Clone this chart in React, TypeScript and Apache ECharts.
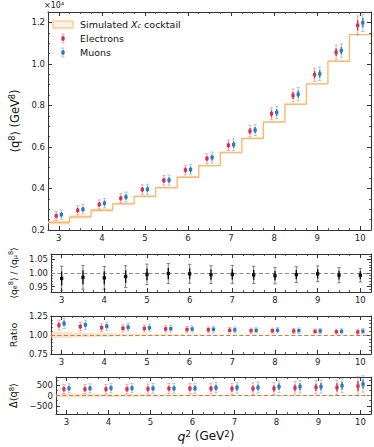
import React, { useEffect, useRef } from "react";
import * as echarts from "echarts";

// ---------------- data ----------------
const binCenters = [3, 3.5, 4, 4.5, 5, 5.5, 6, 6.5, 7, 7.5, 8, 8.5, 9, 9.5, 10];
const binHalfWidth = 0.25;
const cocktail = [2360, 2630, 2950, 3260, 3620, 4040, 4540, 5100, 5730, 6410, 7200, 8060, 9040, 10130, 11410];
const cocktailUnc = [95, 80, 70, 60, 55, 50, 45, 40, 35, 32, 30, 28, 26, 25, 25];

const electrons = [2680, 2950, 3230, 3530, 3950, 4390, 4890, 5440, 6080, 6760, 7600, 8480, 9480, 10560, 11860];
const electronsErr = [220, 215, 220, 225, 230, 230, 235, 235, 255, 275, 290, 310, 320, 345, 450];
const electronsStat = [120, 120, 120, 125, 125, 125, 130, 130, 140, 150, 160, 170, 175, 190, 250];
const muons = [2740, 3000, 3290, 3590, 3960, 4400, 4910, 5490, 6110, 6810, 7660, 8540, 9520, 10640, 11980];
const muonsErr = [225, 225, 230, 235, 240, 245, 250, 265, 275, 265, 300, 320, 330, 320, 420];
const muonsStat = [125, 125, 125, 130, 130, 135, 140, 145, 150, 145, 165, 175, 180, 175, 230];

const eMuRatio = [0.98, 0.984, 0.982, 0.987, 0.995, 0.998, 0.997, 0.994, 0.995, 0.993, 0.99, 0.994, 0.997, 0.992, 0.992];
const eMuRatioErr = [0.045, 0.044, 0.042, 0.04, 0.038, 0.037, 0.035, 0.033, 0.033, 0.032, 0.03, 0.029, 0.029, 0.028, 0.025];
const eMuRatioStat = [0.026, 0.025, 0.024, 0.023, 0.022, 0.021, 0.02, 0.019, 0.019, 0.018, 0.017, 0.017, 0.017, 0.016, 0.015];

const ratioE = [1.13, 1.111, 1.097, 1.088, 1.085, 1.08, 1.072, 1.068, 1.062, 1.056, 1.056, 1.053, 1.048, 1.043, 1.04];
const ratioEErr = [0.066, 0.058, 0.052, 0.048, 0.045, 0.042, 0.04, 0.038, 0.036, 0.035, 0.034, 0.033, 0.033, 0.033, 0.036];
const ratioEStat = [0.036, 0.032, 0.029, 0.027, 0.025, 0.023, 0.022, 0.021, 0.02, 0.019, 0.019, 0.018, 0.018, 0.018, 0.02];
const ratioM = [1.153, 1.134, 1.116, 1.102, 1.094, 1.083, 1.078, 1.075, 1.067, 1.061, 1.062, 1.058, 1.053, 1.049, 1.05];
const ratioMErr = [0.068, 0.06, 0.054, 0.05, 0.047, 0.044, 0.042, 0.04, 0.038, 0.036, 0.036, 0.035, 0.034, 0.033, 0.035];
const ratioMStat = [0.037, 0.033, 0.03, 0.028, 0.026, 0.024, 0.023, 0.022, 0.021, 0.02, 0.02, 0.019, 0.019, 0.018, 0.019];

const deltaE = [310, 310, 310, 310, 320, 340, 340, 340, 330, 340, 340, 370, 400, 390, 460];
const deltaEErr = [225, 225, 230, 235, 240, 245, 250, 260, 265, 275, 285, 300, 320, 360, 450];
const deltaEStat = [125, 125, 125, 130, 130, 135, 135, 140, 145, 150, 155, 165, 175, 200, 250];
const deltaM = [350, 350, 360, 360, 350, 350, 350, 380, 380, 390, 430, 430, 430, 480, 560];
const deltaMErr = [220, 220, 225, 230, 235, 240, 245, 255, 265, 270, 290, 310, 320, 340, 400];
const deltaMStat = [120, 120, 125, 125, 130, 130, 135, 140, 145, 150, 160, 170, 175, 185, 220];

// ---------------- ticks ----------------
const xRange = [2.75, 10.25];
const xMajorTicks = [3, 4, 5, 6, 7, 8, 9, 10];
const xMinorTicks = [2.75, 3.25, 3.5, 3.75, 4.25, 4.5, 4.75, 5.25, 5.5, 5.75, 6.25, 6.5, 6.75, 7.25, 7.5, 7.75, 8.25, 8.5, 8.75, 9.25, 9.5, 9.75, 10.25];

const mainRange = [2000, 12500];
const mainMajor = [2000, 4000, 6000, 8000, 10000, 12000];
const mainMinor = [2500, 3000, 3500, 4500, 5000, 5500, 6500, 7000, 7500, 8500, 9000, 9500, 10500, 11000, 11500];

const emuRange = [0.93, 1.07];
const emuMajor = [0.95, 1.0, 1.05];
const emuMinor = [0.94, 0.96, 0.97, 0.98, 0.99, 1.01, 1.02, 1.03, 1.04, 1.06];

const ratioRange = [0.75, 1.25];
const ratioMajor = [0.75, 1.0, 1.25];
const ratioMinor = [0.8, 0.85, 0.9, 0.95, 1.05, 1.1, 1.15, 1.2];

const deltaRange = [-900, 900];
const deltaMajor = [-500, 0, 500];
const deltaMinor = [-750, -250, 250, 750];

// ---------------- style ----------------
const FONT = "DejaVu Sans";
const AXIS = "#333333";
const RED = "#d7304b";
const RED_LIGHT = "rgba(215,48,75,0.4)";
const BLUE = "#2a7cc0";
const BLUE_LIGHT = "rgba(42,124,192,0.4)";
const ORANGE = "#ffb870";
const BAND = "rgba(253,190,130,0.45)";
const DASH_BROWN = "#b9844e";

const grids = [
  { left: 44, top: 12, width: 327, height: 218 },
  { left: 44, top: 254, width: 327, height: 38 },
  { left: 44, top: 316, width: 327, height: 38 },
  { left: 44, top: 377, width: 327, height: 37 },
];

function axisSet(dim: "x" | "y", grid: number, range: number[], major: number[], minor: number[], fmt: (v: number) => string, name?: any) {
  const posA = dim === "x" ? "bottom" : "left";
  const posB = dim === "x" ? "top" : "right";
  const base: any = { type: "value", gridIndex: grid, min: range[0], max: range[1], splitLine: { show: false } };
  const line = { show: true, onZero: false, lineStyle: { color: AXIS, width: 1 } };
  const noLine = { show: false, onZero: false };
  const majTick = { show: true, inside: true, length: 4, customValues: major, lineStyle: { color: AXIS, width: 1 } };
  const minTick = { show: true, inside: true, length: 2, customValues: minor, lineStyle: { color: AXIS, width: 0.8 } };
  const first: any = {
    ...base,
    position: posA,
    axisLine: line,
    axisTick: majTick,
    axisLabel: { show: true, customValues: major, margin: 3, fontSize: 8.5, fontFamily: FONT, color: "#222", formatter: fmt },
  };
  if (name) Object.assign(first, name);
  return [
    first,
    { ...base, position: posA, axisLine: noLine, axisTick: minTick, axisLabel: { show: false } },
    { ...base, position: posB, axisLine: line, axisTick: majTick, axisLabel: { show: false } },
    { ...base, position: posB, axisLine: noLine, axisTick: minTick, axisLabel: { show: false } },
  ];
}

function errorBars(grid: number, xs: number[], offset: number, ys: number[], errOuter: number[], errInner: number[], color: string, light: string) {
  const data = xs.map((x, i) => [x + offset, ys[i], errOuter[i], errInner[i]]);
  return {
    type: "custom",
    xAxisIndex: grid * 4,
    yAxisIndex: grid * 4,
    data,
    z: 5,
    renderItem: (_p: any, api: any) => {
      const x = api.value(0);
      const y = api.value(1);
      const eo = api.value(2);
      const ei = api.value(3);
      const c = api.coord([x, y]);
      const t = api.coord([x, y + eo]);
      const b = api.coord([x, y - eo]);
      const ti = api.coord([x, y + ei]);
      const bi = api.coord([x, y - ei]);
      const cap = 1.7;
      const m = 3.3;
      return {
        type: "group",
        children: [
          { type: "line", shape: { x1: c[0], y1: t[1], x2: c[0], y2: b[1] }, style: { stroke: light, lineWidth: 1 } },
          { type: "line", shape: { x1: c[0] - cap, y1: t[1], x2: c[0] + cap, y2: t[1] }, style: { stroke: light, lineWidth: 0.9 } },
          { type: "line", shape: { x1: c[0] - cap, y1: b[1], x2: c[0] + cap, y2: b[1] }, style: { stroke: light, lineWidth: 0.9 } },
          { type: "line", shape: { x1: c[0], y1: ti[1], x2: c[0], y2: bi[1] }, style: { stroke: color, lineWidth: 1.4 } },
          { type: "rect", shape: { x: c[0] - m / 2, y: c[1] - m / 2, width: m, height: m }, style: { fill: color } },
        ],
      };
    },
  };
}

function band(grid: number, lo: number[], hi: number[], dashAt: number | null, dashColor: string) {
  const data = binCenters.map((x, i) => [x, lo[i], hi[i]]);
  const s: any = {
    type: "custom",
    xAxisIndex: grid * 4,
    yAxisIndex: grid * 4,
    data,
    z: 2,
    renderItem: (_p: any, api: any) => {
      const x = api.value(0);
      const p1 = api.coord([x - binHalfWidth, api.value(2)]);
      const p2 = api.coord([x + binHalfWidth, api.value(1)]);
      return {
        type: "rect",
        shape: { x: p1[0], y: p1[1], width: p2[0] - p1[0], height: p2[1] - p1[1] },
        style: { fill: BAND },
      };
    },
  };
  if (dashAt !== null) {
    s.markLine = {
      silent: true,
      symbol: ["none", "none"],
      label: { show: false },
      lineStyle: { type: [4, 2.5], color: dashColor, width: 1 },
      data: [{ yAxis: dashAt }],
    };
  }
  return s;
}

const stepData: number[][] = [];
binCenters.forEach((x, i) => {
  stepData.push([x - binHalfWidth, cocktail[i]]);
  stepData.push([x + binHalfWidth, cocktail[i]]);
});

const intFmt = (v: number) => String(Math.round(v));
const nameStyle = (size: number) => ({
  fontFamily: FONT,
  fontSize: size,
  color: "#111",
  rich: {
    n: { fontFamily: FONT, fontSize: size, color: "#111" },
    p: { fontFamily: FONT, fontSize: size * 0.7, color: "#111", verticalAlign: "top", padding: [0, 0, size * 0.45, 0] },
    s: { fontFamily: FONT, fontSize: size * 0.7, color: "#111", verticalAlign: "bottom", padding: [size * 0.35, 0, 0, 0] },
  },
});

function buildOption(): any {
  const xAxes: any[] = [];
  const yAxes: any[] = [];
  for (let g = 0; g < 4; g++) xAxes.push(...axisSet("x", g, xRange, xMajorTicks, xMinorTicks, intFmt));
  yAxes.push(
    ...axisSet("y", 0, mainRange, mainMajor, mainMinor, (v) => (v / 10000).toFixed(1), {
      name: "{n|⟨q}{p|8}{n|⟩ (GeV}{p|8}{n|)}",
      nameLocation: "middle",
      nameGap: 23,
      nameTextStyle: nameStyle(11.5),
    })
  );
  yAxes.push(
    ...axisSet("y", 1, emuRange, emuMajor, emuMinor, (v) => v.toFixed(2), {
      name: "{n|⟨q}{s|e}{p|8}{n|⟩ / ⟨q}{s|μ}{p|8}{n|⟩}",
      nameLocation: "middle",
      nameGap: 28,
      nameTextStyle: nameStyle(9.2),
    })
  );
  yAxes.push(
    ...axisSet("y", 2, ratioRange, ratioMajor, ratioMinor, (v) => v.toFixed(2), {
      name: "Ratio",
      nameLocation: "middle",
      nameGap: 28,
      nameTextStyle: { fontFamily: FONT, fontSize: 9.5, color: "#111" },
    })
  );
  yAxes.push(
    ...axisSet("y", 3, deltaRange, deltaMajor, deltaMinor, (v) => (v < 0 ? "−" + Math.abs(v) : String(v)), {
      name: "{n|Δ⟨q}{p|8}{n|⟩}",
      nameLocation: "middle",
      nameGap: 29,
      nameTextStyle: nameStyle(9.8),
    })
  );

  const ratioLo = cocktail.map((c, i) => 1 - cocktailUnc[i] / c);
  const ratioHi = cocktail.map((c, i) => 1 + cocktailUnc[i] / c);
  const deltaLo = cocktailUnc.map((u) => -u);

  const series: any[] = [
    band(0, cocktail.map((c, i) => c - cocktailUnc[i]), cocktail.map((c, i) => c + cocktailUnc[i]), null, ""),
    {
      type: "line",
      xAxisIndex: 0,
      yAxisIndex: 0,
      data: stepData,
      symbol: "none",
      z: 3,
      lineStyle: { color: ORANGE, width: 1.4 },
    },
    errorBars(0, binCenters, -0.06, electrons, electronsErr, electronsStat, RED, RED_LIGHT),
    errorBars(0, binCenters, 0.06, muons, muonsErr, muonsStat, BLUE, BLUE_LIGHT),
    {
      type: "line",
      xAxisIndex: 4,
      yAxisIndex: 4,
      data: [],
      markLine: {
        silent: true,
        symbol: ["none", "none"],
        label: { show: false },
        lineStyle: { type: [4, 2.5], color: "#8a8a8a", width: 1 },
        data: [{ yAxis: 1 }],
      },
    },
    errorBars(1, binCenters, 0, eMuRatio, eMuRatioErr, eMuRatioStat, "#111111", "rgba(40,40,40,0.6)"),
    band(2, ratioLo, ratioHi, 1, DASH_BROWN),
    errorBars(2, binCenters, -0.06, ratioE, ratioEErr, ratioEStat, RED, RED_LIGHT),
    errorBars(2, binCenters, 0.06, ratioM, ratioMErr, ratioMStat, BLUE, BLUE_LIGHT),
    band(3, deltaLo, cocktailUnc, 0, DASH_BROWN),
    errorBars(3, binCenters, -0.06, deltaE, deltaEErr, deltaEStat, RED, RED_LIGHT),
    errorBars(3, binCenters, 0.06, deltaM, deltaMErr, deltaMStat, BLUE, BLUE_LIGHT),
  ];

  const legendText = { fontFamily: FONT, fontSize: 9.5, fill: "#111" };
  const graphic: any[] = [
    { type: "text", left: 44, top: 1, style: { text: "×10⁴", fontFamily: FONT, fontSize: 8, fill: "#222" } },
    { type: "rect", shape: { x: 53, y: 21, width: 20, height: 7 }, style: { fill: "rgba(253,200,150,0.25)", stroke: ORANGE, lineWidth: 1 } },
    {
      type: "text",
      x: 80,
      y: 24.5,
      style: {
        text: "{n|Simulated }{i|X}{s|c}{n| cocktail}",
        verticalAlign: "middle",
        rich: {
          n: legendText,
          i: { ...legendText, fontStyle: "italic" },
          s: { ...legendText, fontSize: 6.5, fontStyle: "italic", verticalAlign: "bottom", padding: [3, 0, 0, 0] },
        },
        ...legendText,
      },
    },
    { type: "text", x: 80, y: 38.5, style: { text: "Electrons", verticalAlign: "middle", ...legendText } },
    { type: "text", x: 80, y: 52.5, style: { text: "Muons", verticalAlign: "middle", ...legendText } },
    // legend icons
    { type: "line", shape: { x1: 63, y1: 34, x2: 63, y2: 43 }, style: { stroke: RED_LIGHT, lineWidth: 1 } },
    { type: "line", shape: { x1: 61.3, y1: 34, x2: 64.7, y2: 34 }, style: { stroke: RED_LIGHT, lineWidth: 0.9 } },
    { type: "line", shape: { x1: 61.3, y1: 43, x2: 64.7, y2: 43 }, style: { stroke: RED_LIGHT, lineWidth: 0.9 } },
    { type: "line", shape: { x1: 63, y1: 36, x2: 63, y2: 41 }, style: { stroke: RED, lineWidth: 1.4 } },
    { type: "rect", shape: { x: 61.35, y: 36.85, width: 3.3, height: 3.3 }, style: { fill: RED } },
    { type: "line", shape: { x1: 63, y1: 48, x2: 63, y2: 57 }, style: { stroke: BLUE_LIGHT, lineWidth: 1 } },
    { type: "line", shape: { x1: 61.3, y1: 48, x2: 64.7, y2: 48 }, style: { stroke: BLUE_LIGHT, lineWidth: 0.9 } },
    { type: "line", shape: { x1: 61.3, y1: 57, x2: 64.7, y2: 57 }, style: { stroke: BLUE_LIGHT, lineWidth: 0.9 } },
    { type: "line", shape: { x1: 63, y1: 50, x2: 63, y2: 55 }, style: { stroke: BLUE, lineWidth: 1.4 } },
    { type: "rect", shape: { x: 61.35, y: 50.85, width: 3.3, height: 3.3 }, style: { fill: BLUE } },
    {
      type: "text",
      x: 206,
      y: 436,
      style: {
        text: "{i|q}{p|2}{n| (GeV}{p|2}{n|)}",
        align: "center",
        verticalAlign: "middle",
        rich: {
          n: { fontFamily: FONT, fontSize: 12, fill: "#111" },
          i: { fontFamily: FONT, fontSize: 12.5, fontStyle: "italic", fill: "#111" },
          p: { fontFamily: FONT, fontSize: 8.5, fill: "#111", verticalAlign: "top", padding: [0, 0, 5, 0] },
        },
      },
    },
  ];

  return {
    animation: false,
    backgroundColor: "#ffffff",
    grid: grids,
    xAxis: xAxes,
    yAxis: yAxes,
    series,
    graphic,
  };
}

export default function App() {
  const ref = useRef<HTMLDivElement>(null);
  useEffect(() => {
    if (!ref.current) return;
    const chart = echarts.init(ref.current, undefined, { renderer: "svg" });
    chart.setOption(buildOption());
    return () => chart.dispose();
  }, []);
  return <div ref={ref} style={{ position: "fixed", left: 0, top: 0, width: 374, height: 447 }} />;
}
